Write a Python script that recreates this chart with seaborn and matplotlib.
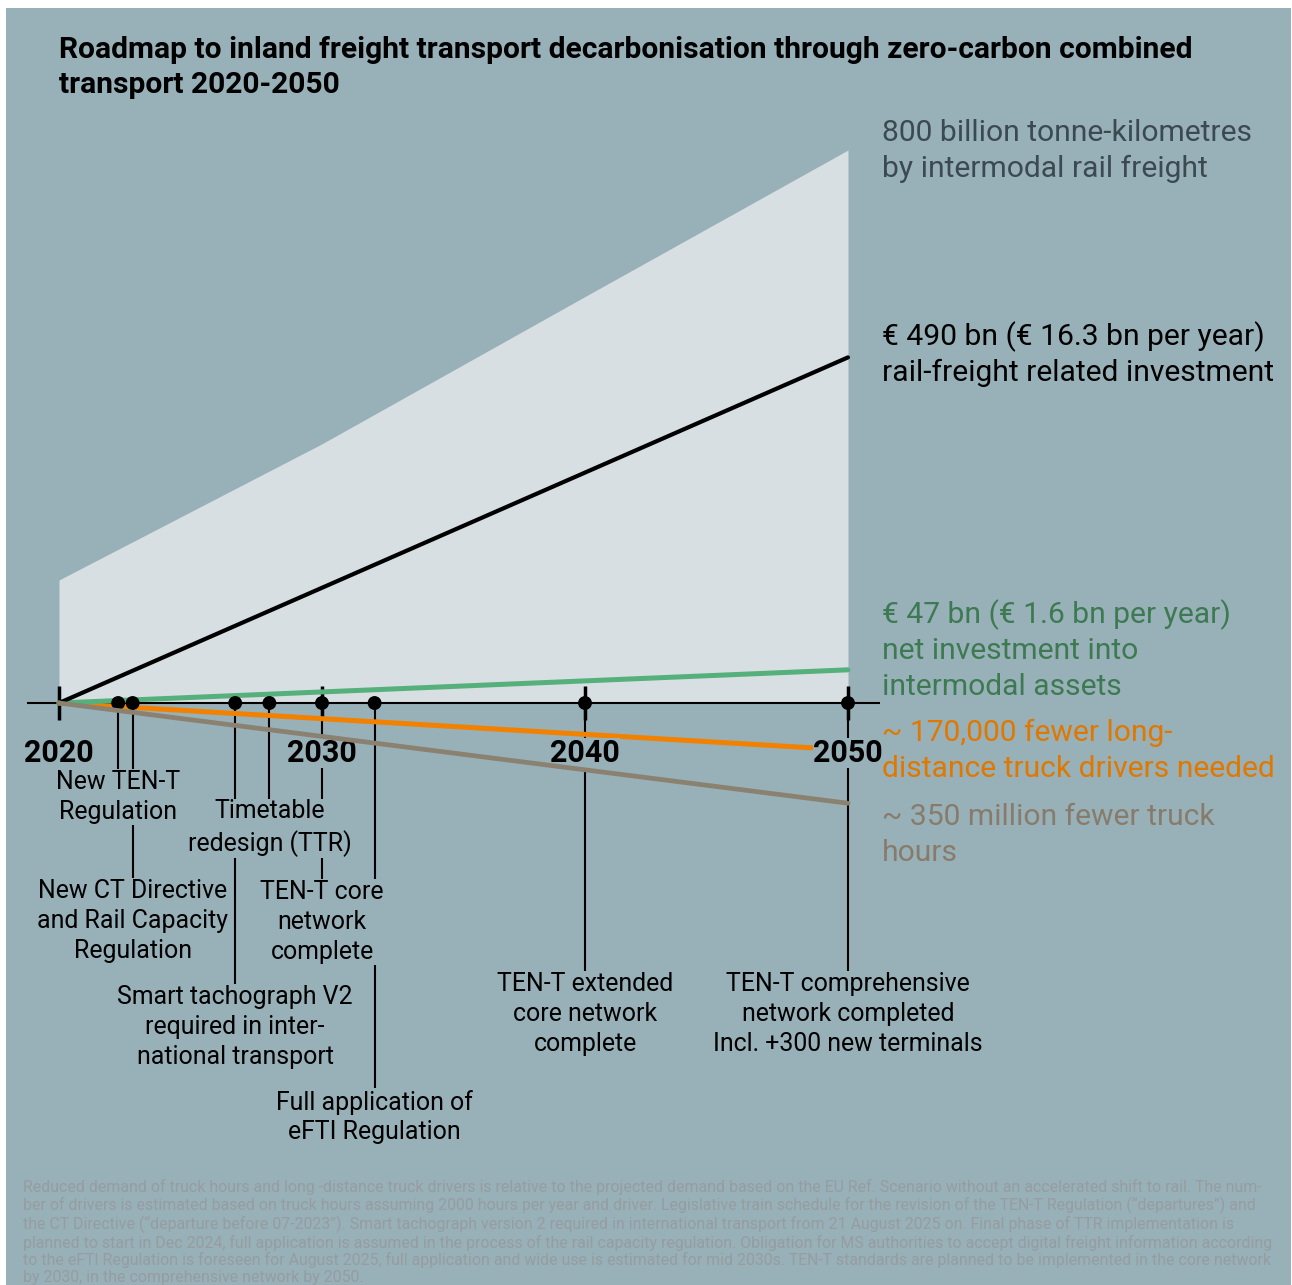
import numpy as np
import pandas as pd
import seaborn as sns
import matplotlib.pyplot as plt
from matplotlib.patches import Rectangle
import matplotlib.transforms as mtransforms

# ------------- Datos -------------
area_years = [2020, 2030, 2040, 2050]
area_tkm = [178, 375, 588, 800]  # billion tonne-km (intermodal rail)

line_years = [2020, 2050]
rail_invest = [0, 500]
ct_invest = [0, 48]
drivers = [0, -68]
truck_hours = [0, -145]

year_ticks = [2020, 2030, 2040, 2050]

event_years = [2022.25, 2022.8, 2026.7, 2028.0, 2030, 2032.0, 2040, 2050]
event_labels = [
    "New TEN-T\nRegulation",
    "New CT Directive\nand Rail Capacity\nRegulation",
    "Smart tachograph V2\nrequired in inter-\nnational transport",
    "Timetable\nredesign (TTR)",
    "TEN-T core\nnetwork\ncomplete",
    "Full application of\neFTI Regulation",
    "TEN-T extended\ncore network\ncomplete",
    "TEN-T comprehensive\nnetwork completed\nIncl. +300 new terminals",
]
event_label_y = [797, 921, 1027, 828, 922, 1117, 1014, 1014]  # pixel centre of label

title = ("Roadmap to inland freight transport decarbonisation through zero-carbon combined\n"
         "transport 2020-2050")
side_labels = [
    "800 billion tonne-kilometres\nby intermodal rail freight",
    "€ 490 bn (€ 16.3 bn per year)\nrail-freight related investment",
    "€ 47 bn (€ 1.6 bn per year)\nnet investment into\nintermodal assets",
    "~ 170,000 fewer long-\ndistance truck drivers needed",
    "~ 350 million fewer truck\nhours",
]
footnote = (
    "Reduced demand of truck hours and long -distance truck drivers is relative to the projected demand based on the EU Ref. Scenario without an accelerated shift to rail. The num-\n"
    "ber of drivers is estimated based on truck hours assuming 2000 hours per year and driver. Legislative train schedule for the revision of the TEN-T Regulation (\u201cdepartures\u201d) and\n"
    "the CT Directive (\u201cdeparture before 07-2023\u201d). Smart tachograph version 2 required in international transport from 21 August 2025 on. Final phase of TTR implementation is\n"
    "planned to start in Dec 2024, full application is assumed in the process of the rail capacity regulation. Obligation for MS authorities to accept digital freight information according\n"
    "to the eFTI Regulation is foreseen for August 2025, full application and wide use is estimated for mid 2030s. TEN-T standards are planned to be implemented in the core network\n"
    "by 2030, in the comprehensive network by 2050."
)

# ------------- Estilo -------------
BG = "#98B0B8"
FILL = "#D7DFE2"
C_GREEN = "#55B07C"
C_ORANGE = "#F28100"
C_GREY = "#8A8170"

sns.set_theme(style="white")
plt.rcParams["font.family"] = ["Roboto", "DejaVu Sans"]

W, H = 1292, 1285
fig = plt.figure(figsize=(W / 100, H / 100), dpi=100, facecolor="white")
fig.patches.append(Rectangle((6 / W, 0), (W - 7) / W, (H - 8) / H,
                             transform=fig.transFigure, facecolor=BG,
                             edgecolor="none", zorder=-10))

ax = fig.add_axes([0, 0, 1, 1])
ax.set_facecolor("none")
ax.set_axis_off()

# escala: pixel -> datos
X0, PXY = 59, 26.3          # 2020 en x=59, 26.3 px por ano
Y0, PXU = 703, 553 / 800    # eje en y=703
ax.set_xlim(2020 - X0 / PXY, 2020 + (W - X0) / PXY)
ax.set_ylim(-(H - Y0) / PXU, Y0 / PXU)


def yv(py):
    return (Y0 - py) / PXU


def xv(px):
    return 2020 + (px - X0) / PXY


# area de toneladas-km
ax.fill_between(area_years, 0, area_tkm, color=FILL, lw=0, zorder=1)

# eje y marcas
ax.hlines(0, xv(27), xv(880), color="black", lw=1.5, zorder=3)
ax.vlines(year_ticks, yv(720), yv(686), color="black", lw=2.5, zorder=3)

df = pd.DataFrame({"year": line_years, "rail": rail_invest, "ct": ct_invest,
                   "drivers": drivers, "hours": truck_hours})
sns.lineplot(data=df, x="year", y="hours", color=C_GREY, lw=3.4, ax=ax, zorder=8)
sns.lineplot(data=df, x="year", y="drivers", color=C_ORANGE, lw=3.6, ax=ax, zorder=4)
sns.lineplot(data=df, x="year", y="ct", color=C_GREEN, lw=3.6, ax=ax, zorder=4)
sns.lineplot(data=df, x="year", y="rail", color="black", lw=3.0, ax=ax, zorder=4)

# lineas guia y puntos
for ex, ly in zip(event_years, event_label_y):
    ax.plot([ex, ex], [0, yv(ly)], color="black", lw=1.5, zorder=2.5)
sns.scatterplot(x=event_years, y=[0] * len(event_years), color="black", s=100,
                edgecolor="none", ax=ax, zorder=6)

mask = dict(facecolor=BG, edgecolor="none", pad=0.0)
for yr in year_ticks:
    ax.text(yr, yv(762), str(yr), ha="center", va="baseline", fontsize=22,
            fontweight="bold", color="black", bbox=mask, zorder=7)

mask = dict(facecolor=BG, edgecolor="none", pad=1.0)
trans = mtransforms.blended_transform_factory(ax.transData, fig.transFigure)
for ex, lab, ly in zip(event_years, event_labels, event_label_y):
    ax.text(ex, 1 - ly / H, lab, transform=trans, ha="center", va="center",
            fontsize=17.9, color="black", linespacing=1.31, bbox=mask, zorder=7)

# textos laterales
side_colors = ["#3B4A51", "black", "#3D7A52", "#E07800", "#877C6C"]
side_y = [151, 354, 650, 751, 835]
for lab, c, sy in zip(side_labels, side_colors, side_y):
    fig.text(882 / W, 1 - sy / H, lab, ha="left", va="center", fontsize=21.6,
             color=c, linespacing=1.33)

fig.text(59 / W, 1 - 67.5 / H, title, ha="left", va="center", fontsize=21.6,
         fontweight="bold", color="black", linespacing=1.36)

fig.text(23 / W, 1 - 1232 / H, footnote, ha="left", va="center", fontsize=11.4,
         color="#959DA0", linespacing=1.12)

plt.savefig("out.png", dpi=100, facecolor="white")
